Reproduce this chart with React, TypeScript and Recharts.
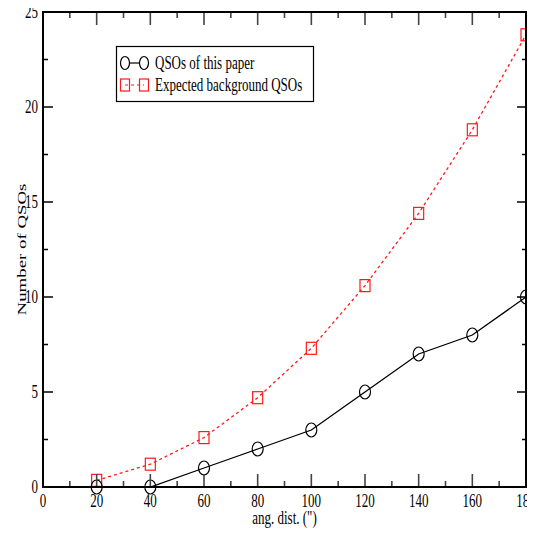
import { LineChart, Line, XAxis, YAxis } from "recharts";

const angDist = [20, 40, 60, 80, 100, 120, 140, 160, 180];
const qsosThisPaper = [0, 0, 1, 2, 3, 5, 7, 8, 10];
const expectedBackground = [0.35, 1.2, 2.6, 4.7, 7.3, 10.6, 14.4, 18.8, 23.8];
const xTicks = [0, 10, 20, 30, 40, 50, 60, 70, 80, 90, 100, 110, 120, 130, 140, 150, 160, 170, 180];
const yTicks = [0, 2.5, 5, 7.5, 10, 12.5, 15, 17.5, 20, 22.5, 25];
const seriesNames = ["QSOs of this paper", "Expected background QSOs"];
const xTitle = 'ang. dist. (")';
const yTitle = "Number of QSOs";

const data = angDist.map((d, i) => ({
  dist: d,
  paper: qsosThisPaper[i],
  expected: expectedBackground[i],
}));

const FONT = "'Liberation Serif', 'Times New Roman', serif";
const STRETCH = 1.45;
const RED = "#ff1a1a";

// chart geometry (same numbers go into the LineChart below)
const W = 535;
const H = 533;
const M = { top: 12, right: 9, bottom: 0, left: 8 };
const Y_AXIS_W = 35;
const X_AXIS_H = 46;
const PLOT = {
  left: M.left + Y_AXIS_W,
  top: M.top,
  right: W - M.right,
  bottom: H - M.bottom - X_AXIS_H,
};
const X_MAX = 180;
const Y_MAX = 25;

function SText(props: any) {
  const { x, y, anchor = "start", rotate = 0, children } = props;
  return (
    <text
      transform={`translate(${x},${y}) scale(1,${STRETCH}) rotate(${rotate})`}
      textAnchor={anchor}
      fontFamily={FONT}
      fontSize={13}
      fill="#000"
    >
      {children}
    </text>
  );
}

function BottomTick(props: any) {
  const { x, y, payload } = props;
  if (payload.value % 20 !== 0) return <g />;
  return (
    <SText x={x} y={y + 20} anchor="middle">
      {payload.value}
    </SText>
  );
}

function LeftTick(props: any) {
  const { x, y, payload } = props;
  if (payload.value % 5 !== 0) return <g />;
  return (
    <SText x={x - 5} y={y + 6.3} anchor="end">
      {payload.value}
    </SText>
  );
}

function XTitle(props: any) {
  const vb = props.viewBox;
  return (
    <SText x={vb.x + vb.width / 2} y={vb.y + 37} anchor="middle">
      {xTitle}
    </SText>
  );
}

function YTitle(props: any) {
  const vb = props.viewBox;
  return (
    <SText x={vb.x + 18} y={vb.y + vb.height / 2} anchor="middle" rotate={-90}>
      {yTitle}
    </SText>
  );
}

function CircleDot(props: any) {
  const { cx, cy, index } = props;
  return <ellipse key={`c-${index}`} cx={cx} cy={cy} rx={5.5} ry={7} fill="none" stroke="#000" strokeWidth={1.2} />;
}

function SquareDot(props: any) {
  const { cx, cy, index } = props;
  return <rect key={`s-${index}`} x={cx - 5} y={cy - 6} width={10} height={12} fill="none" stroke={RED} strokeWidth={1.2} />;
}

const renderCircle = (p: any) => <CircleDot {...p} />;
const renderSquare = (p: any) => <SquareDot {...p} />;

// xmgrace-style box: frame plus inward major/minor ticks on all four sides
function Frame() {
  const pw = PLOT.right - PLOT.left;
  const ph = PLOT.bottom - PLOT.top;
  const xp = (v: number) => PLOT.left + (v / X_MAX) * pw;
  const yp = (v: number) => PLOT.bottom - (v / Y_MAX) * ph;
  return (
    <svg
      width={W}
      height={H}
      style={{ position: "absolute", left: 0, top: 0, pointerEvents: "none", zIndex: 2 }}
    >
      {xTicks.map((v) => {
        const len = v % 20 === 0 ? 13 : 6;
        return (
          <g key={`x${v}`} stroke="#444" strokeWidth={1.6}>
            <line x1={xp(v)} x2={xp(v)} y1={PLOT.bottom} y2={PLOT.bottom - len} />
            <line x1={xp(v)} x2={xp(v)} y1={PLOT.top} y2={PLOT.top + len} />
          </g>
        );
      })}
      {yTicks.map((v) => {
        const major = v % 5 === 0;
        return (
          <g key={`y${v}`} stroke="#000" strokeWidth={1.5}>
            <line x1={PLOT.left} x2={PLOT.left + (major ? 10 : 5)} y1={yp(v)} y2={yp(v)} />
            <line x1={PLOT.right} x2={PLOT.right - (major ? 9 : 4)} y1={yp(v)} y2={yp(v)} />
          </g>
        );
      })}
      <rect x={PLOT.left} y={PLOT.top} width={pw} height={ph} fill="none" stroke="#000" strokeWidth={2} />
    </svg>
  );
}

function LegendBox() {
  return (
    <svg
      width={198}
      height={56}
      style={{ position: "absolute", left: 116, top: 46, overflow: "visible", zIndex: 3 }}
    >
      <rect x={0.5} y={0.5} width={197} height={55} fill="#fff" stroke="#000" strokeWidth={1.2} />
      <line x1={9} x2={28} y1={17} y2={17} stroke="#000" strokeWidth={1.2} />
      <ellipse cx={9} cy={17} rx={4.5} ry={6.5} fill="#fff" stroke="#000" strokeWidth={1.2} />
      <ellipse cx={28} cy={17} rx={4.5} ry={6.5} fill="#fff" stroke="#000" strokeWidth={1.2} />
      <SText x={39} y={23}>{seriesNames[0]}</SText>
      <line x1={9} x2={28} y1={39} y2={39} stroke={RED} strokeWidth={1.2} strokeDasharray="3 3" />
      <rect x={4.5} y={33} width={9} height={12} fill="none" stroke={RED} strokeWidth={1.2} />
      <rect x={23.5} y={33} width={9} height={12} fill="none" stroke={RED} strokeWidth={1.2} />
      <SText x={39} y={45}>{seriesNames[1]}</SText>
    </svg>
  );
}

export default function App() {
  return (
    <div style={{ width: W, height: H, margin: "-8px 0 0 -8px", position: "relative" }}>
      <LineChart width={W} height={H} data={data} margin={M}>
        <XAxis
          dataKey="dist"
          type="number"
          domain={[0, X_MAX]}
          ticks={xTicks}
          interval={0}
          tickSize={0}
          tickMargin={0}
          tickLine={false}
          height={X_AXIS_H}
          axisLine={{ stroke: "#000", strokeWidth: 2 }}
          tick={<BottomTick />}
          label={<XTitle />}
        />
        <YAxis
          type="number"
          domain={[0, Y_MAX]}
          ticks={yTicks}
          interval={0}
          tickSize={0}
          tickMargin={0}
          tickLine={false}
          width={Y_AXIS_W}
          axisLine={{ stroke: "#000", strokeWidth: 2 }}
          tick={<LeftTick />}
          label={<YTitle />}
        />
        <Line
          dataKey="expected"
          stroke={RED}
          strokeWidth={1.3}
          strokeDasharray="3 3"
          dot={renderSquare}
          activeDot={false}
          isAnimationActive={false}
        />
        <Line
          dataKey="paper"
          stroke="#000"
          strokeWidth={1.3}
          dot={renderCircle}
          activeDot={false}
          isAnimationActive={false}
        />
      </LineChart>
      <Frame />
      <LegendBox />
    </div>
  );
}
